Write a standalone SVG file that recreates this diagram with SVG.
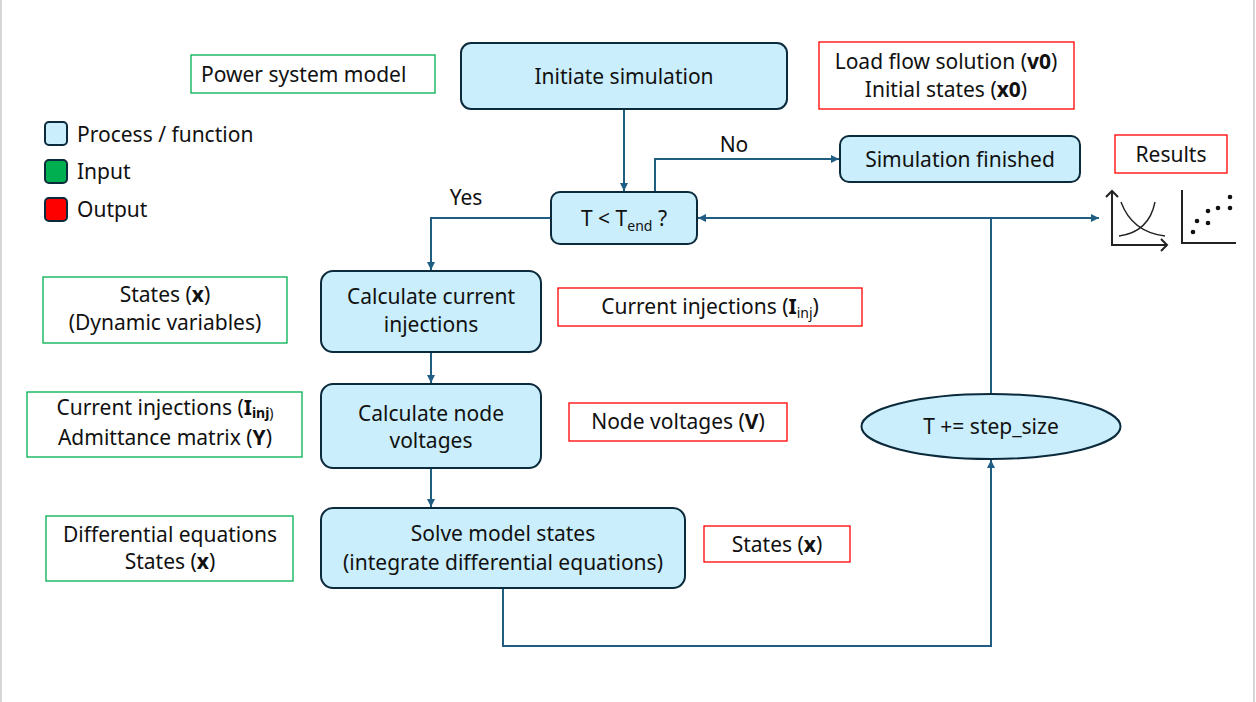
<svg xmlns="http://www.w3.org/2000/svg" width="1256" height="702" viewBox="0 0 1256 702">
<style>
text{font-family:"Noto Sans","Liberation Sans",sans-serif;font-size:21px;fill:#111;}
.c{text-anchor:middle;}
.proc{fill:#CAEEFB;stroke:#0B2A3C;stroke-width:2;}
.in{fill:#fff;stroke:#00B050;stroke-width:1.3;}
.out{fill:#fff;stroke:#FF0000;stroke-width:1.3;}
.conn{fill:none;stroke:#1F5E82;stroke-width:2;}
.ax{fill:none;stroke:#222;stroke-width:2;}
.b{font-weight:bold;}
.sub{font-size:14px;}
</style>
<defs>
<marker id="arr" viewBox="0 0 10 10" refX="10" refY="5" markerWidth="9" markerHeight="8" markerUnits="userSpaceOnUse" orient="auto">
<path d="M0,0 L10,5 L0,10 z" fill="#1F5E82"/>
</marker>
</defs>
<rect x="0" y="0" width="1256" height="702" fill="#fff"/>
<line x1="1" y1="0" x2="1" y2="702" stroke="#c8c8c8" stroke-width="1.5"/>
<line x1="1254" y1="0" x2="1254" y2="702" stroke="#c8c8c8" stroke-width="1.5"/>

<g id="legend">
<rect x="45" y="122" width="22" height="23" rx="4" class="proc"/>
<text x="77" y="142">Process / function</text>
<rect x="45" y="160" width="22" height="23" rx="4" fill="#00B050" stroke="#0B2A3C" stroke-width="2"/>
<text x="77" y="179">Input</text>
<rect x="45" y="198" width="22" height="23" rx="4" fill="#FF0000" stroke="#0B2A3C" stroke-width="2"/>
<text x="77" y="217">Output</text>
</g>

<g id="connectors">
<path class="conn" d="M624,109 V191" marker-end="url(#arr)"/>
<path class="conn" d="M655,192 V159 H839" marker-end="url(#arr)"/>
<path class="conn" d="M551,218 H431 V270" marker-end="url(#arr)"/>
<path class="conn" d="M431,352 V383" marker-end="url(#arr)"/>
<path class="conn" d="M431,468 V507" marker-end="url(#arr)"/>
<path class="conn" d="M503,588 V646 H991 V460" marker-end="url(#arr)"/>
<path class="conn" d="M991,394 V218 H698" marker-end="url(#arr)"/>
<path class="conn" d="M991,218 H1099" marker-end="url(#arr)"/>
<text x="734" y="152" class="c">No</text>
<text x="466" y="205" class="c">Yes</text>
</g>

<g id="power-system-model">
<rect x="191" y="55" width="244" height="38" class="in"/>
<text x="201" y="82">Power system model</text>
</g>

<g id="initiate-simulation">
<rect x="461" y="43" width="326" height="66" rx="10" class="proc"/>
<text x="624" y="84" class="c">Initiate simulation</text>
</g>

<g id="load-flow">
<rect x="819" y="42" width="255" height="67" class="out"/>
<text x="946" y="69" class="c">Load flow solution (<tspan class="b">v0</tspan>)</text>
<text x="946" y="97" class="c">Initial states (<tspan class="b">x0</tspan>)</text>
</g>

<g id="simulation-finished">
<rect x="840" y="136" width="240" height="46" rx="9" class="proc"/>
<text x="960" y="167" class="c">Simulation finished</text>
</g>

<g id="results">
<rect x="1115" y="135" width="112" height="38" class="out"/>
<text x="1171" y="162" class="c">Results</text>
<path class="ax" d="M1112,191 V245 H1167"/>
<path class="ax" d="M1106,197 L1112,191 L1118,197 M1161,239 L1167,245 L1161,251"/>
<path d="M1121,202 Q1132,232 1165,236" fill="none" stroke="#222" stroke-width="1.4"/>
<path d="M1119,236 Q1149,232 1155,202" fill="none" stroke="#222" stroke-width="1.4"/>
<path class="ax" d="M1182,190 V243 H1236"/>
<g fill="#111">
<circle cx="1193" cy="232" r="2.3"/>
<circle cx="1197" cy="221" r="2.3"/>
<circle cx="1208" cy="223" r="2.3"/>
<circle cx="1208" cy="211" r="2.3"/>
<circle cx="1218" cy="208" r="2.3"/>
<circle cx="1230" cy="208" r="2.3"/>
<circle cx="1230" cy="197" r="2.3"/>
</g>
</g>

<g id="t-check">
<rect x="551" y="192" width="146" height="52" rx="9" class="proc"/>
<text x="624" y="226" class="c">T &lt; T<tspan class="sub" dy="5">end</tspan><tspan dy="-5"> ?</tspan></text>
</g>

<g id="states-dynamic">
<rect x="43" y="277" width="244" height="66" class="in"/>
<text x="165" y="302" class="c">States (<tspan class="b">x</tspan>)</text>
<text x="165" y="330" class="c">(Dynamic variables)</text>
</g>

<g id="calc-current">
<rect x="321" y="271" width="220" height="81" rx="12" class="proc"/>
<text x="431" y="304" class="c">Calculate current</text>
<text x="431" y="332" class="c">injections</text>
</g>

<g id="current-injections-out">
<rect x="558" y="288" width="304" height="38" class="out"/>
<text x="710" y="314" class="c">Current injections (<tspan class="b">I</tspan><tspan class="sub" dy="4">inj</tspan><tspan dy="-4">)</tspan></text>
</g>

<g id="inputs-voltage">
<rect x="27" y="392" width="275" height="65" class="in"/>
<text x="165" y="415" class="c">Current injections (<tspan class="b">I</tspan><tspan class="sub" dy="3"><tspan class="b">inj</tspan>)</tspan></text>
<text x="165" y="445" class="c">Admittance matrix (<tspan class="b">Y</tspan>)</text>
</g>

<g id="calc-node-voltages">
<rect x="321" y="384" width="220" height="84" rx="12" class="proc"/>
<text x="431" y="421" class="c">Calculate node</text>
<text x="431" y="448" class="c">voltages</text>
</g>

<g id="node-voltages-out">
<rect x="569" y="403" width="218" height="38" class="out"/>
<text x="678" y="429" class="c">Node voltages (<tspan class="b">V</tspan>)</text>
</g>

<g id="step">
<ellipse cx="991" cy="426.5" rx="129.5" ry="32.5" class="proc"/>
<text x="991" y="434" class="c">T += step_size</text>
</g>

<g id="inputs-solve">
<rect x="46" y="516" width="247" height="65" class="in"/>
<text x="170" y="542" class="c">Differential equations</text>
<text x="170" y="569" class="c">States (<tspan class="b">x</tspan>)</text>
</g>

<g id="solve-states">
<rect x="321" y="508" width="364" height="80" rx="12" class="proc"/>
<text x="503" y="541" class="c">Solve model states</text>
<text x="503" y="570" class="c">(integrate differential equations)</text>
</g>

<g id="states-out">
<rect x="704" y="526" width="146" height="36" class="out"/>
<text x="777" y="552" class="c">States (<tspan class="b">x</tspan>)</text>
</g>
</svg>
